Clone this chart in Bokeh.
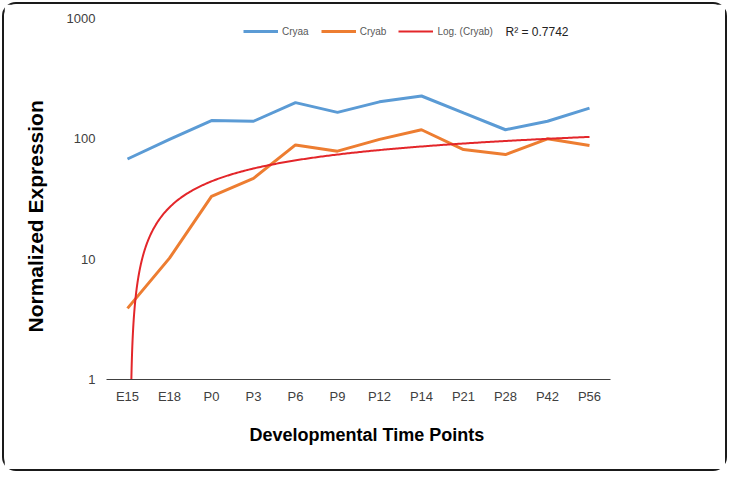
import numpy as np
from bokeh.plotting import figure
from bokeh.models import (FixedTicker, Legend, LegendItem, Label, Range1d, Title)
from bokeh.embed import file_html
from bokeh.resources import INLINE

categories = ["E15", "E18", "P0", "P3", "P6", "P9", "P12", "P14", "P21", "P28", "P42", "P56"]
cryaa = [68, 99, 142, 140, 200, 166, 203, 227, 164, 119, 140, 180]
cryab = [3.9, 10.2, 33.2, 46.9, 89, 79, 99, 119, 81.5, 74, 100, 88]
r2_text = "R\u00b2 = 0.7742"
y_ticks = [1, 10, 100, 1000]

xi = np.arange(1, len(categories) + 1)

# logarithmic trendline fitted to Cryab (as the spreadsheet does)
a, b = np.polyfit(np.log(xi), np.array(cryab), 1)
x_start = np.exp((0.5 - b) / a)
xf = np.concatenate([np.linspace(x_start, 1.5, 200), np.linspace(1.5, xi[-1], 300)])
yf = a * np.log(xf) + b

p = figure(width=725, height=469, output_backend="svg", toolbar_location=None,
           y_axis_type="log", x_range=Range1d(0.5, 12.5), y_range=Range1d(1, 1000),
           min_border_left=101, min_border_right=119, min_border_top=14, min_border_bottom=94)
p.styles = {"border": "2px solid #1a1a1a", "border-radius": "14px", "margin": "2px"}
p.outline_line_color = None
p.xgrid.visible = False
p.ygrid.visible = False
p.background_fill_color = "white"
p.border_fill_color = "white"

r_a = p.line(xi, cryaa, line_color="#5B9BD5", line_width=3)
r_b = p.line(xi, cryab, line_color="#ED7D31", line_width=3)
r_f = p.line(xf, yf, line_color="#E3262A", line_width=2)

xa = p.xaxis[0]
xa.ticker = FixedTicker(ticks=list(xi))
xa.major_label_overrides = {int(i): c for i, c in zip(xi, categories)}
xa.major_tick_line_color = None
xa.major_tick_out = 0
xa.major_tick_in = 0
xa.minor_tick_line_color = None
xa.axis_line_color = "#404040"
xa.axis_line_width = 1
xa.major_label_text_font = "Liberation Sans"
xa.major_label_text_font_size = "13px"
xa.major_label_text_color = "#404040"
xa.major_label_standoff = 9

ya = p.yaxis[0]
ya.ticker = FixedTicker(ticks=y_ticks, minor_ticks=[])
ya.major_label_overrides = {1: "1", 10: "10", 100: "100", 1000: "1000"}
ya.axis_line_color = None
ya.major_tick_line_color = None
ya.major_tick_out = 0
ya.major_tick_in = 0
ya.minor_tick_line_color = None
ya.major_label_text_font = "Liberation Sans"
ya.major_label_text_font_size = "13px"
ya.major_label_text_color = "#404040"
ya.major_label_standoff = 11

p.add_layout(Title(text="Normalized Expression", align="left", offset=47, standoff=34,
                   text_font="Liberation Sans", text_font_style="bold",
                   text_font_size="21px", text_color="black"), "left")
p.add_layout(Title(text="Developmental Time Points", align="left", offset=143, standoff=33,
                   text_font="Liberation Sans", text_font_style="bold",
                   text_font_size="18px", text_color="black"), "below")

legend = Legend(items=[LegendItem(label="Cryaa", renderers=[r_a]),
                       LegendItem(label="Cryab", renderers=[r_b]),
                       LegendItem(label="Log. (Cryab)", renderers=[r_f])],
                orientation="horizontal", location=(137, 342),
                glyph_width=35, glyph_height=12, label_height=12, label_standoff=4,
                spacing=12, padding=0, margin=0,
                border_line_color=None, background_fill_alpha=0,
                label_text_font="Liberation Sans", label_text_font_size="10px",
                label_text_color="#595959")
p.add_layout(legend)

p.add_layout(Label(x=10.0, y=772, text=r2_text, text_font="Liberation Sans",
                   text_font_size="12px", text_color="#222", text_baseline="middle"))

open("out.html", "w").write(file_html(p, INLINE))
